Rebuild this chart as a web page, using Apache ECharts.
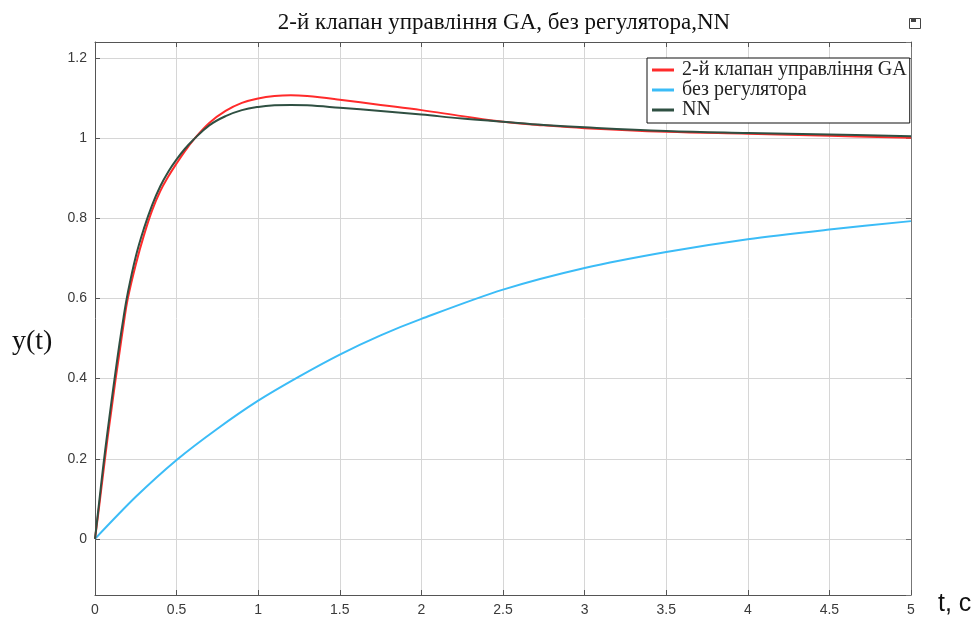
<!DOCTYPE html>
<html>
<head>
<meta charset="utf-8">
<script src="https://cdn.jsdelivr.net/npm/echarts@6/dist/echarts.min.js"></script>
<style>html,body{margin:0;padding:0;background:#fff;}#chart{width:979px;height:619px;}</style>
</head>
<body>
<div id="chart"></div>
<script>
// ---- data ----
const chartTitle = '2-й клапан управління GA, без регулятора,NN';
const seriesNames = ['2-й клапан управління GA', 'без регулятора', 'NN'];
const xTicks = [0, 0.5, 1, 1.5, 2, 2.5, 3, 3.5, 4, 4.5, 5];
const yTicks = [0, 0.2, 0.4, 0.6, 0.8, 1, 1.2];

const tFast = [0, 0.025, 0.05, 0.075, 0.1, 0.125, 0.15, 0.175, 0.2, 0.25, 0.3, 0.35, 0.4, 0.45, 0.5, 0.55, 0.6, 0.7, 0.8, 0.9, 1.0, 1.1, 1.2, 1.3, 1.5, 1.75, 2.0, 2.25, 2.5, 2.75, 3.0, 3.5, 4.0, 4.5, 5.0];
const yGA = [0, 0.08, 0.163, 0.245, 0.32, 0.395, 0.465, 0.535, 0.598, 0.685, 0.758, 0.82, 0.868, 0.905, 0.937, 0.967, 0.994, 1.038, 1.068, 1.088, 1.099, 1.105, 1.107, 1.105, 1.096, 1.083, 1.07, 1.055, 1.041, 1.032, 1.025, 1.016, 1.011, 1.006, 1.001];
const yNN = [0, 0.09, 0.18, 0.262, 0.34, 0.415, 0.487, 0.553, 0.612, 0.705, 0.775, 0.833, 0.88, 0.917, 0.947, 0.973, 0.995, 1.032, 1.055, 1.07, 1.078, 1.082, 1.083, 1.082, 1.076, 1.068, 1.059, 1.049, 1.041, 1.033, 1.027, 1.018, 1.013, 1.009, 1.005];

const tSlow = [0, 0.25, 0.5, 0.75, 1.0, 1.25, 1.5, 1.75, 2.0, 2.5, 3.0, 3.5, 4.0, 4.5, 5.0];
const yNoReg = [0, 0.105, 0.197, 0.275, 0.345, 0.405, 0.46, 0.508, 0.549, 0.622, 0.676, 0.716, 0.748, 0.772, 0.793];

const colors = ['#ff2b2b', '#3bbcf7', '#2f5042'];

// ---- chart ----
const pair = (xs, ys) => xs.map((x, i) => [x, ys[i]]);
const fmt = v => (yTicks.some(t => Math.abs(t - v) < 1e-9) ? String(+v.toFixed(1)) : '');
const frame = '#555555';
const gridCol = '#d6d6d6';
const tickLabel = { color: '#3a3a3a', fontFamily: 'Liberation Sans', fontSize: 14 };

const chart = echarts.init(document.getElementById('chart'), null, { renderer: 'canvas' });
chart.setOption({
  backgroundColor: '#ffffff',
  animation: false,
  color: colors,
  title: {
    text: chartTitle,
    left: 504,
    textAlign: 'center',
    top: 8,
    padding: [3, 0, 3, 0],
    textStyle: { fontFamily: 'Liberation Serif', fontWeight: 'normal', fontSize: 23, color: '#111' }
  },
  grid: { left: 95, right: 68, top: 42, bottom: 24, containLabel: false },
  legend: {
    orient: 'vertical',
    left: 647,
    top: 58,
    padding: [2, 3, 3, 5],
    itemGap: 0,
    itemWidth: 22,
    itemHeight: 3,
    icon: 'rect',
    backgroundColor: '#ffffff',
    borderColor: '#111',
    borderWidth: 1,
    borderRadius: 0,
    textStyle: { fontFamily: 'Liberation Serif', fontSize: 20, color: '#222', lineHeight: 20, padding: [0, 0, 0, 3] },
    data: seriesNames
  },
  xAxis: [{
    type: 'value', min: 0, max: 5, interval: 0.5,
    axisLine: { show: true, onZero: false, lineStyle: { color: frame, width: 1 } },
    axisTick: { show: true, inside: true, length: 5, lineStyle: { color: frame } },
    axisLabel: Object.assign({ margin: 8, formatter: v => String(v) }, tickLabel),
    splitLine: { show: true, lineStyle: { color: gridCol, width: 1 } }
  }, {
    type: 'value', min: 0, max: 5, interval: 0.5, position: 'top',
    axisLine: { show: true, onZero: false, lineStyle: { color: frame, width: 1 } },
    axisTick: { show: true, inside: true, length: 5, lineStyle: { color: frame } },
    axisLabel: { show: false },
    splitLine: { show: false }
  }],
  yAxis: [{
    type: 'value', min: -0.14, max: 1.24, splitNumber: 7,
    axisLine: { show: true, onZero: false, lineStyle: { color: frame, width: 1 } },
    axisTick: { show: true, inside: true, length: 5, lineStyle: { color: frame } },
    axisLabel: Object.assign({ margin: 8, showMinLabel: false, showMaxLabel: false, formatter: fmt }, tickLabel),
    splitLine: { show: true, lineStyle: { color: gridCol, width: 1 } }
  }, {
    type: 'value', min: -0.14, max: 1.24, splitNumber: 7, position: 'right',
    axisLine: { show: true, onZero: false, lineStyle: { color: '#777', width: 1 } },
    axisTick: { show: true, inside: true, length: 5, lineStyle: { color: '#777' } },
    axisLabel: { show: false },
    splitLine: { show: false }
  }],
  series: [
    { name: seriesNames[0], type: 'line', data: pair(tFast, yGA), showSymbol: false, smooth: 0.4, lineStyle: { width: 2, color: colors[0] }, z: 3 },
    { name: seriesNames[1], type: 'line', data: pair(tSlow, yNoReg), showSymbol: false, smooth: 0.3, lineStyle: { width: 2, color: colors[1] }, z: 2 },
    { name: seriesNames[2], type: 'line', data: pair(tFast, yNN), showSymbol: false, smooth: 0.4, lineStyle: { width: 2, color: colors[2] }, z: 4 }
  ],
  graphic: [
    { type: 'text', left: 12, top: 328, style: { text: 'y(t)', font: '28px "Liberation Serif"', fill: '#111' } },
    { type: 'text', left: 938, top: 592, style: { text: 't, c', font: '25px "Liberation Sans"', fill: '#111' } },
    { type: 'rect', left: 907, top: 16, shape: { width: 11, height: 10 }, style: { fill: 'none', stroke: '#444', lineWidth: 1 } },
    { type: 'rect', left: 911, top: 19, shape: { width: 5, height: 3 }, style: { fill: '#444' } }
  ]
});
</script>
</body>
</html>
